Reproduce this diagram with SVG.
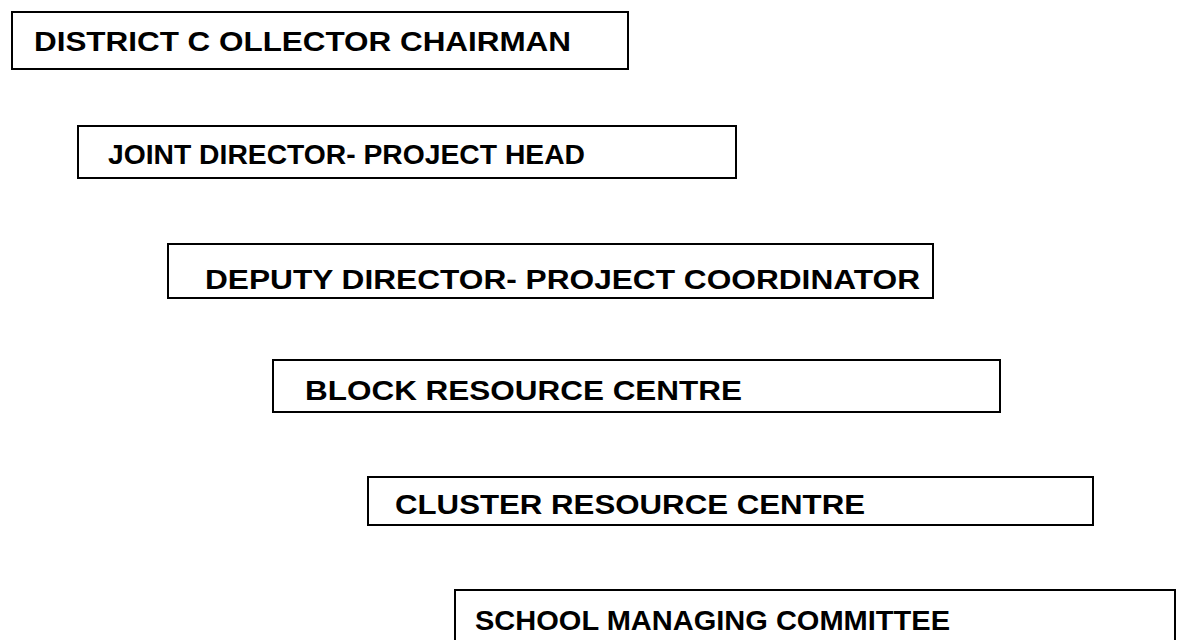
<svg xmlns="http://www.w3.org/2000/svg" width="1181" height="640" viewBox="0 0 1181 640">
<style>
.box{fill:#fff;stroke:#000;stroke-width:2}
.t{font-family:"Liberation Sans",Arial,sans-serif;font-weight:bold;font-size:27px;fill:#000}
</style>
<rect width="1181" height="640" fill="#fff"/>
<g id="node1"><rect class="box" x="12" y="12" width="616" height="57"/><text class="t" x="34" y="51" textLength="537" lengthAdjust="spacingAndGlyphs">DISTRICT C OLLECTOR CHAIRMAN</text></g>
<g id="node2"><rect class="box" x="78" y="126" width="658" height="52"/><text class="t" x="108" y="164" textLength="477" lengthAdjust="spacingAndGlyphs">JOINT DIRECTOR- PROJECT HEAD</text></g>
<g id="node3"><rect class="box" x="168" y="244" width="765" height="54"/><text class="t" x="205" y="289" textLength="715" lengthAdjust="spacingAndGlyphs">DEPUTY DIRECTOR- PROJECT COORDINATOR</text></g>
<g id="node4"><rect class="box" x="273" y="360" width="727" height="52"/><text class="t" x="305" y="400" textLength="437" lengthAdjust="spacingAndGlyphs">BLOCK RESOURCE CENTRE</text></g>
<g id="node5"><rect class="box" x="368" y="477" width="725" height="48"/><text class="t" x="395" y="514" textLength="470" lengthAdjust="spacingAndGlyphs">CLUSTER RESOURCE CENTRE</text></g>
<g id="node6"><rect class="box" x="455" y="590" width="720" height="60"/><text class="t" x="475" y="630" textLength="475" lengthAdjust="spacingAndGlyphs">SCHOOL MANAGING COMMITTEE</text></g>
<g id="connectors"></g>
</svg>
